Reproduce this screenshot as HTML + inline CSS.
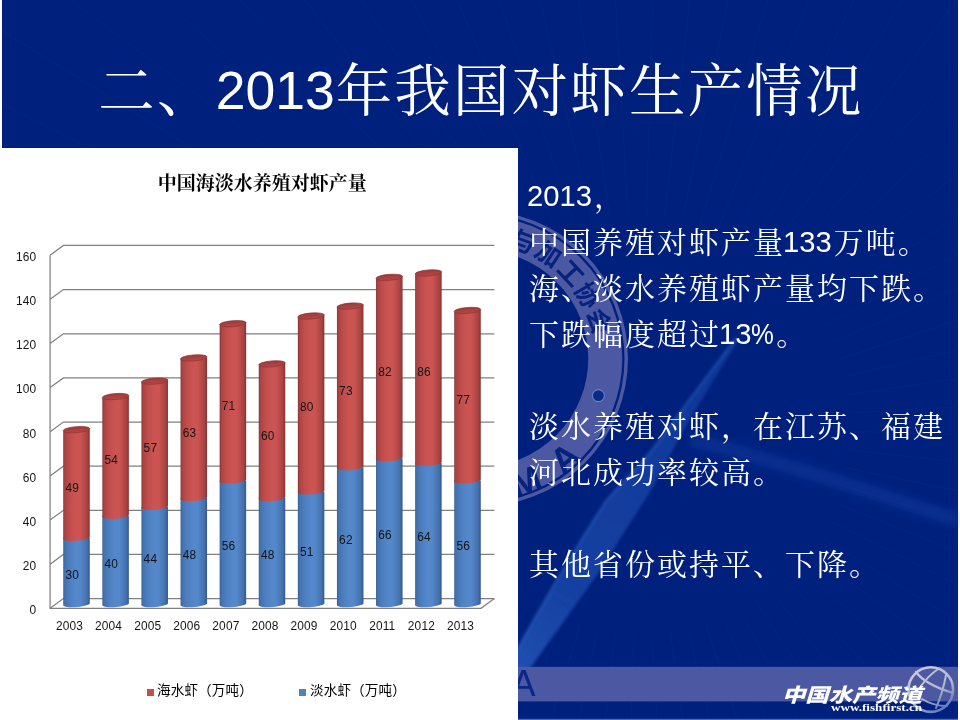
<!DOCTYPE html>
<html lang="zh-CN">
<head>
<meta charset="utf-8">
<title>二、2013年我国对虾生产情况</title>
<style>
html,body{margin:0;padding:0;}
body{width:960px;height:720px;overflow:hidden;background:#fff;position:relative;font-family:"Liberation Sans", "Noto Serif CJK SC", serif;}
.slide{position:absolute;left:0;top:0;width:960px;height:720px;overflow:hidden;background:#fff;}
.blue{position:absolute;left:2px;top:0;width:956px;height:720px;background:#00207d;}
.bgsvg{position:absolute;left:0;top:0;}
.seal{font-family:"Liberation Sans", "Noto Sans CJK SC", sans-serif;font-weight:700;}
.sealen{font-family:"Liberation Sans",sans-serif;font-weight:700;}
h1{position:absolute;left:0;top:56px;width:960px;margin:0;text-align:center;color:#fff;font-weight:400;
   font-size:56.4px;letter-spacing:2.27px;text-indent:2px;line-height:72px;white-space:nowrap;font-family:"Liberation Sans", "Noto Serif CJK SC", serif;}
h1 .n{font-size:53.5px;letter-spacing:0;position:relative;top:-2.2px;margin-right:1px;}
.panel{position:absolute;left:2px;top:148px;width:516px;height:572px;background:#fff;}
.chart{position:absolute;left:2px;top:148px;}
.ctitle{position:absolute;left:1.2px;top:171px;width:522px;text-align:center;font-weight:700;color:#000;
   font-size:19px;line-height:26px;white-space:nowrap;font-family:"Liberation Sans", "Noto Serif CJK SC", serif;}
.lb{position:absolute;font-family:"Liberation Sans",sans-serif;font-size:11.9px;line-height:16px;height:16px;color:#151515;white-space:nowrap;letter-spacing:0.16px;}
.dl{color:#141414;}
.lg{position:absolute;top:680.5px;font-size:13.6px;line-height:20px;color:#000;white-space:nowrap;font-family:"Liberation Sans", "Noto Sans CJK SC", sans-serif;font-weight:400;letter-spacing:0.1px;}
.sw{position:absolute;width:7px;height:7px;top:689px;}
.body{position:absolute;left:529px;top:173.7px;width:432px;margin:0;color:#fff;font-size:30px;letter-spacing:2px;line-height:46px;
   font-family:"Liberation Sans", "Noto Serif CJK SC", serif;white-space:nowrap;}
.body p{margin:0;height:46px;}
.body .pc{display:inline-block;transform:scaleX(0.88);transform-origin:0 50%;margin-right:-3.2px;}
.body .n{font-size:29.2px;letter-spacing:0;position:relative;top:-0.7px;margin-left:-2px;margin-right:2px;}
.biga{position:absolute;left:511.5px;top:664px;font-family:"Liberation Sans",sans-serif;font-size:36px;line-height:40px;color:#0a2788;}
.logo{position:absolute;left:781.5px;top:682px;color:#fff;font-family:"Liberation Sans", "Noto Sans CJK SC", sans-serif;font-weight:900;font-style:italic;
   font-size:19.3px;line-height:28px;white-space:nowrap;letter-spacing:0;transform-origin:0 50%;transform:scaleX(1.21);}
.url{position:absolute;left:830.5px;top:701.5px;color:#fff;font-family:"Liberation Serif",serif;font-weight:700;
   font-size:10.5px;line-height:12px;white-space:nowrap;transform-origin:0 0;transform:scaleX(1.25);}
</style>
</head>
<body>
<div class="slide">
<div class="blue"></div>
<svg class="bgsvg" width="960" height="720" viewBox="0 0 960 720">
<defs>
<filter id="bl6" x="-20%" y="-20%" width="140%" height="140%"><feGaussianBlur stdDeviation="1.6"/></filter>
<filter id="bl2" x="-20%" y="-20%" width="140%" height="140%"><feGaussianBlur stdDeviation="4"/></filter>
<linearGradient id="globe" gradientUnits="userSpaceOnUse" x1="912" y1="668" x2="940" y2="712"><stop offset="0" stop-color="#c9cce0"/><stop offset="0.6" stop-color="#b4b8d2"/><stop offset="1" stop-color="#5f78c0"/></linearGradient>
<linearGradient id="beam" gradientUnits="userSpaceOnUse" x1="740" y1="340" x2="520" y2="680"><stop offset="0" stop-color="#2a62c8" stop-opacity="0.3"/><stop offset="0.3" stop-color="#2a62c8" stop-opacity="0.4"/><stop offset="0.75" stop-color="#2f6ad0" stop-opacity="0.44"/><stop offset="1" stop-color="#3a78dc" stop-opacity="0.55"/></linearGradient>
</defs>
<path d="M849.91 431.3L1939.42 463.99M848.56 449.57L1931.07 577.1M845.62 467.65L1912.9 689.04M841.12 485.41L1885.05 798.98M835.09 502.71L1847.71 906.07M827.58 519.42L1801.19 1009.5M818.63 535.41L1745.83 1108.48M808.33 550.56L1682.05 1202.26M796.75 564.75L1610.34 1290.12M783.97 577.88L1531.25 1371.4M770.1 589.85L1445.38 1445.47M755.24 600.56L1353.37 1511.78M739.5 609.93L1255.94 1569.82M723 617.9L1153.82 1619.15M705.87 624.4L1047.78 1659.39M688.24 629.38L938.65 1690.23M670.25 632.81L827.24 1711.45M652.02 634.66L714.41 1722.87M633.7 634.91L601.01 1724.42M615.43 633.56L487.9 1716.07M597.35 630.62L375.96 1697.9M579.59 626.12L266.02 1670.05M562.29 620.09L158.93 1632.71M545.58 612.58L55.5 1586.19M529.59 603.63L-43.48 1530.83M514.44 593.33L-137.26 1467.05M500.25 581.75L-225.12 1395.34M487.12 568.97L-306.4 1316.25M475.15 555.1L-380.47 1230.38M464.44 540.24L-446.78 1138.37M455.07 524.5L-504.82 1040.94M447.1 508L-554.15 938.82M440.6 490.87L-594.39 832.78M435.62 473.24L-625.23 723.65M432.19 455.25L-646.45 612.24M430.34 437.02L-657.87 499.41M430.09 418.7L-659.42 386.01M431.44 400.43L-651.07 272.9M434.38 382.35L-632.9 160.96M438.88 364.59L-605.05 51.02M444.91 347.29L-567.71 -56.07M452.42 330.58L-521.19 -159.5M461.37 314.59L-465.83 -258.48M471.67 299.44L-402.05 -352.26M483.25 285.25L-330.34 -440.12M496.03 272.12L-251.25 -521.4M509.9 260.15L-165.38 -595.47M524.76 249.44L-73.37 -661.78M540.5 240.07L24.06 -719.82M557 232.1L126.18 -769.15M574.13 225.6L232.22 -809.39M591.76 220.62L341.35 -840.23M609.75 217.19L452.76 -861.45M627.98 215.34L565.59 -872.87M646.3 215.09L678.99 -874.42M664.57 216.44L792.1 -866.07M682.65 219.38L904.04 -847.9M700.41 223.88L1013.98 -820.05M717.71 229.91L1121.07 -782.71M734.42 237.42L1224.5 -736.19M750.41 246.37L1323.48 -680.83M765.56 256.67L1417.26 -617.05M779.75 268.25L1505.12 -545.34M792.88 281.03L1586.4 -466.25M804.85 294.9L1660.47 -380.38M815.56 309.76L1726.78 -288.37M824.93 325.5L1784.82 -190.94M832.9 342L1834.15 -88.82M839.4 359.13L1874.39 17.22M844.38 376.76L1905.23 126.35M847.81 394.75L1926.45 237.76M849.66 412.98L1937.87 350.59" fill="none" stroke="#7f9be8" stroke-opacity="0.04" stroke-width="1"/>
<g filter="url(#bl6)">
<path d="M736 338 C 705 380, 680 412, 660 440 C 640 466, 622 482, 607 500 C 590 525, 575 550, 560 575 C 545 600, 530 627, 514 655 L 514 690 C 540 655, 570 612, 597 575 C 615 548, 630 522, 645 500 C 658 478, 668 460, 678 440 C 695 410, 718 372, 739 340 Z" fill="url(#beam)"/>
<path d="M736 338 C 705 380, 680 412, 660 440 C 640 466, 622 482, 607 500 C 590 525, 575 550, 560 575 C 545 600, 530 627, 514 655" fill="none" stroke="#3f7ee0" stroke-opacity="0.35" stroke-width="2.5"/>
</g>
<path filter="url(#bl2)" d="M690 440 C 770 458, 870 492, 958 520" fill="none" stroke="#2a5fc4" stroke-opacity="0.24" stroke-width="14"/>
<g>
<circle cx="480" cy="358.5" r="125.25" fill="none" stroke="#4c58a1" stroke-width="34"/>
<circle cx="480" cy="358.5" r="146.25" fill="none" stroke="#4c58a1" stroke-width="3.5"/>
<circle cx="598.4" cy="395.6" r="6" fill="#0a2a86" stroke="#6680cc" stroke-width="1.1"/>
<text class="seal" x="480.0" y="243" text-anchor="middle" font-size="25" fill="#04227e" transform="rotate(20.0 480.0 358.5)">与</text>
<text class="seal" x="480.0" y="243" text-anchor="middle" font-size="25" fill="#04227e" transform="rotate(33.3 480.0 358.5)">加</text>
<text class="seal" x="480.0" y="243" text-anchor="middle" font-size="25" fill="#04227e" transform="rotate(46.8 480.0 358.5)">工</text>
<text class="seal" x="480.0" y="243" text-anchor="middle" font-size="25" fill="#04227e" transform="rotate(59.5 480.0 358.5)">协</text>
<text class="seal" x="480.0" y="243" text-anchor="middle" font-size="25" fill="#04227e" transform="rotate(72.5 480.0 358.5)">会</text>
<text class="sealen" x="480.0" y="502" text-anchor="middle" font-size="36" fill="#04227e" transform="rotate(-20.5 480.0 358.5)">M</text>
<text class="sealen" x="480.0" y="502" text-anchor="middle" font-size="36" fill="#04227e" transform="rotate(-40.5 480.0 358.5)">A</text>
</g>
<rect x="2" y="666.8" width="956" height="34.6" fill="#4c58a1"/>
<rect x="2" y="718.8" width="956" height="1.2" fill="#4f66bd"/>
<g fill="none" stroke="url(#globe)" stroke-width="2.6" stroke-linecap="round">
<circle cx="930.8" cy="689.6" r="22.3"/>
<path d="M916 672 C 921 679, 930 686, 953 693" stroke-width="2.2"/>
<path d="M939 668.5 C 932 673, 926 679, 921 686" stroke-width="2"/>
<path d="M946 675 C 944 686, 941 697, 936 708" stroke-width="2"/>
<path d="M922 699 C 930 704, 938 706, 947 706" stroke-width="1.8"/>
</g>
</svg>
<h1>二、<span class="n">2013</span>年我国对虾生产情况</h1>
<div class="biga">A</div>
<div class="panel"></div>
<svg class="chart" width="516" height="572" viewBox="2 148 516 572">
<defs>
<linearGradient id="gr" x1="0" y1="0" x2="1" y2="0"><stop offset="0" stop-color="#7d3231"/><stop offset="0.05" stop-color="#a84241"/><stop offset="0.25" stop-color="#c04e4c"/><stop offset="0.5" stop-color="#cc5553"/><stop offset="0.65" stop-color="#cb5452"/><stop offset="0.9" stop-color="#a94342"/><stop offset="0.96" stop-color="#953a39"/><stop offset="1" stop-color="#7a302f"/></linearGradient>
<linearGradient id="gb" x1="0" y1="0" x2="1" y2="0"><stop offset="0" stop-color="#33588c"/><stop offset="0.05" stop-color="#4270aa"/><stop offset="0.25" stop-color="#4d7fc0"/><stop offset="0.5" stop-color="#5488ca"/><stop offset="0.65" stop-color="#5387c9"/><stop offset="0.9" stop-color="#4371ad"/><stop offset="0.96" stop-color="#3a6299"/><stop offset="1" stop-color="#30538a"/></linearGradient>
<linearGradient id="gc" x1="0" y1="0" x2="0" y2="1"><stop offset="0" stop-color="#9c3b3a"/><stop offset="1" stop-color="#b54847"/></linearGradient>
</defs>
<g fill="none" stroke="#808080" stroke-width="1.25">
<path d="M50.1 608.3L63.4 598.6H494.4"/>
<path d="M50.1 564.16L63.4 554.46H494.4"/>
<path d="M50.1 520.02L63.4 510.32H494.4"/>
<path d="M50.1 475.88L63.4 466.18H494.4"/>
<path d="M50.1 431.74L63.4 422.04H494.4"/>
<path d="M50.1 387.6L63.4 377.9H494.4"/>
<path d="M50.1 343.46L63.4 333.76H494.4"/>
<path d="M50.1 299.32L63.4 289.62H494.4"/>
<path d="M50.1 255.18L63.4 245.48H494.4"/>
<path d="M50.1 255.18V608.3H481L494.4 598.6"/>
</g>
<path fill="url(#gb)" d="M63.25 537.79V604.6A13.25 3 -4.5 0 0 89.75 603.4V537.79Z"/>
<path fill="url(#gr)" d="M63.25 430.65V538.79A13.25 3 -4.5 0 0 89.75 536.79V428.65Z"/>
<ellipse cx="76.5" cy="429.65" rx="13.3" ry="3" fill="url(#gc)" stroke="#8c3534" stroke-width="0.7" transform="rotate(-4.5 76.5 429.65)"/>
<path fill="url(#gb)" d="M102.35 515.72V604.6A13.25 3 -4.5 0 0 128.85 603.4V515.72Z"/>
<path fill="url(#gr)" d="M102.35 397.54V516.72A13.25 3 -4.5 0 0 128.85 514.72V395.54Z"/>
<ellipse cx="115.6" cy="396.54" rx="13.3" ry="3" fill="url(#gc)" stroke="#8c3534" stroke-width="0.7" transform="rotate(-4.5 115.6 396.54)"/>
<path fill="url(#gb)" d="M141.45 506.89V604.6A13.25 3 -4.5 0 0 167.95 603.4V506.89Z"/>
<path fill="url(#gr)" d="M141.45 382.09V507.89A13.25 3 -4.5 0 0 167.95 505.89V380.09Z"/>
<ellipse cx="154.7" cy="381.09" rx="13.3" ry="3" fill="url(#gc)" stroke="#8c3534" stroke-width="0.7" transform="rotate(-4.5 154.7 381.09)"/>
<path fill="url(#gb)" d="M180.55 498.06V604.6A13.25 3 -4.5 0 0 207.05 603.4V498.06Z"/>
<path fill="url(#gr)" d="M180.55 358.92V499.06A13.25 3 -4.5 0 0 207.05 497.06V356.92Z"/>
<ellipse cx="193.8" cy="357.92" rx="13.3" ry="3" fill="url(#gc)" stroke="#8c3534" stroke-width="0.7" transform="rotate(-4.5 193.8 357.92)"/>
<path fill="url(#gb)" d="M219.65 480.41V604.6A13.25 3 -4.5 0 0 246.15 603.4V480.41Z"/>
<path fill="url(#gr)" d="M219.65 324.71V481.41A13.25 3 -4.5 0 0 246.15 479.41V322.71Z"/>
<ellipse cx="232.9" cy="323.71" rx="13.3" ry="3" fill="url(#gc)" stroke="#8c3534" stroke-width="0.7" transform="rotate(-4.5 232.9 323.71)"/>
<path fill="url(#gb)" d="M258.75 498.06V604.6A13.25 3 -4.5 0 0 285.25 603.4V498.06Z"/>
<path fill="url(#gr)" d="M258.75 364.88V499.06A13.25 3 -4.5 0 0 285.25 497.06V362.88Z"/>
<ellipse cx="272" cy="363.88" rx="13.3" ry="3" fill="url(#gc)" stroke="#8c3534" stroke-width="0.7" transform="rotate(-4.5 272 363.88)"/>
<path fill="url(#gb)" d="M297.85 491.44V604.6A13.25 3 -4.5 0 0 324.35 603.4V491.44Z"/>
<path fill="url(#gr)" d="M297.85 316.99V492.44A13.25 3 -4.5 0 0 324.35 490.44V314.99Z"/>
<ellipse cx="311.1" cy="315.99" rx="13.3" ry="3" fill="url(#gc)" stroke="#8c3534" stroke-width="0.7" transform="rotate(-4.5 311.1 315.99)"/>
<path fill="url(#gb)" d="M336.95 467.17V604.6A13.25 3 -4.5 0 0 363.45 603.4V467.17Z"/>
<path fill="url(#gr)" d="M336.95 307.06V468.17A13.25 3 -4.5 0 0 363.45 466.17V305.06Z"/>
<ellipse cx="350.2" cy="306.06" rx="13.3" ry="3" fill="url(#gc)" stroke="#8c3534" stroke-width="0.7" transform="rotate(-4.5 350.2 306.06)"/>
<path fill="url(#gb)" d="M376.05 458.34V604.6A13.25 3 -4.5 0 0 402.55 603.4V458.34Z"/>
<path fill="url(#gr)" d="M376.05 278.36V459.34A13.25 3 -4.5 0 0 402.55 457.34V276.36Z"/>
<ellipse cx="389.3" cy="277.36" rx="13.3" ry="3" fill="url(#gc)" stroke="#8c3534" stroke-width="0.7" transform="rotate(-4.5 389.3 277.36)"/>
<path fill="url(#gb)" d="M415.15 462.75V604.6A13.25 3 -4.5 0 0 441.65 603.4V462.75Z"/>
<path fill="url(#gr)" d="M415.15 273.95V463.75A13.25 3 -4.5 0 0 441.65 461.75V271.95Z"/>
<ellipse cx="428.4" cy="272.95" rx="13.3" ry="3" fill="url(#gc)" stroke="#8c3534" stroke-width="0.7" transform="rotate(-4.5 428.4 272.95)"/>
<path fill="url(#gb)" d="M454.25 480.41V604.6A13.25 3 -4.5 0 0 480.75 603.4V480.41Z"/>
<path fill="url(#gr)" d="M454.25 311.47V481.41A13.25 3 -4.5 0 0 480.75 479.41V309.47Z"/>
<ellipse cx="467.5" cy="310.47" rx="13.3" ry="3" fill="url(#gc)" stroke="#8c3534" stroke-width="0.7" transform="rotate(-4.5 467.5 310.47)"/>
</svg>
<div class="ctitle">中国海淡水养殖对虾产量</div>
<div class="lb" style="left:-3.7px;top:602.1px;width:40px;text-align:right">0</div>
<div class="lb" style="left:-3.7px;top:557.96px;width:40px;text-align:right">20</div>
<div class="lb" style="left:-3.7px;top:513.82px;width:40px;text-align:right">40</div>
<div class="lb" style="left:-3.7px;top:469.68px;width:40px;text-align:right">60</div>
<div class="lb" style="left:-3.7px;top:425.54px;width:40px;text-align:right">80</div>
<div class="lb" style="left:-3.7px;top:381.4px;width:40px;text-align:right">100</div>
<div class="lb" style="left:-3.7px;top:337.26px;width:40px;text-align:right">120</div>
<div class="lb" style="left:-3.7px;top:293.12px;width:40px;text-align:right">140</div>
<div class="lb" style="left:-3.7px;top:248.98px;width:40px;text-align:right">160</div>
<div class="lb" style="left:49.5px;top:618px;width:40px;text-align:center">2003</div>
<div class="lb" style="left:88.6px;top:618px;width:40px;text-align:center">2004</div>
<div class="lb" style="left:127.7px;top:618px;width:40px;text-align:center">2005</div>
<div class="lb" style="left:166.8px;top:618px;width:40px;text-align:center">2006</div>
<div class="lb" style="left:205.9px;top:618px;width:40px;text-align:center">2007</div>
<div class="lb" style="left:245px;top:618px;width:40px;text-align:center">2008</div>
<div class="lb" style="left:284.1px;top:618px;width:40px;text-align:center">2009</div>
<div class="lb" style="left:323.2px;top:618px;width:40px;text-align:center">2010</div>
<div class="lb" style="left:362.3px;top:618px;width:40px;text-align:center">2011</div>
<div class="lb" style="left:401.4px;top:618px;width:40px;text-align:center">2012</div>
<div class="lb" style="left:440.5px;top:618px;width:40px;text-align:center">2013</div>
<div class="lb dl" style="left:52.2px;top:566.89px;width:40px;text-align:center">30</div>
<div class="lb dl" style="left:52.2px;top:480.02px;width:40px;text-align:center">49</div>
<div class="lb dl" style="left:91.3px;top:555.86px;width:40px;text-align:center">40</div>
<div class="lb dl" style="left:91.3px;top:452.43px;width:40px;text-align:center">54</div>
<div class="lb dl" style="left:130.4px;top:551.45px;width:40px;text-align:center">44</div>
<div class="lb dl" style="left:130.4px;top:440.29px;width:40px;text-align:center">57</div>
<div class="lb dl" style="left:169.5px;top:547.03px;width:40px;text-align:center">48</div>
<div class="lb dl" style="left:169.5px;top:424.84px;width:40px;text-align:center">63</div>
<div class="lb dl" style="left:208.6px;top:538.2px;width:40px;text-align:center">56</div>
<div class="lb dl" style="left:208.6px;top:398.36px;width:40px;text-align:center">71</div>
<div class="lb dl" style="left:247.7px;top:547.03px;width:40px;text-align:center">48</div>
<div class="lb dl" style="left:247.7px;top:428.15px;width:40px;text-align:center">60</div>
<div class="lb dl" style="left:286.8px;top:543.72px;width:40px;text-align:center">51</div>
<div class="lb dl" style="left:286.8px;top:399.46px;width:40px;text-align:center">80</div>
<div class="lb dl" style="left:325.9px;top:531.58px;width:40px;text-align:center">62</div>
<div class="lb dl" style="left:325.9px;top:382.91px;width:40px;text-align:center">73</div>
<div class="lb dl" style="left:365px;top:527.17px;width:40px;text-align:center">66</div>
<div class="lb dl" style="left:365px;top:364.15px;width:40px;text-align:center">82</div>
<div class="lb dl" style="left:404.1px;top:529.38px;width:40px;text-align:center">64</div>
<div class="lb dl" style="left:404.1px;top:364.15px;width:40px;text-align:center">86</div>
<div class="lb dl" style="left:443.2px;top:538.2px;width:40px;text-align:center">56</div>
<div class="lb dl" style="left:443.2px;top:391.74px;width:40px;text-align:center">77</div>
<div class="sw" style="left:147px;background:#c0504d"></div>
<div class="lg" style="left:157px">海水虾（万吨）</div>
<div class="sw" style="left:299px;background:#4f81bd"></div>
<div class="lg" style="left:310px">淡水虾（万吨）</div>
<div class="body">
<p><span class="n">2013</span>，</p>
<p>中国养殖对虾产量<span class="n">133</span>万吨。</p>
<p>海、淡水养殖虾产量均下跌。</p>
<p>下跌幅度超过<span class="n">13<span class="pc">%</span></span>。</p>
<p>&nbsp;</p>
<p>淡水养殖对虾，在江苏、福建</p>
<p>河北成功率较高。</p>
<p>&nbsp;</p>
<p>其他省份或持平、下降。</p>
</div>
<div class="logo">中国水产频道</div>
<div class="url">www.fishfirst.cn</div>
</div>
</body>
</html>
